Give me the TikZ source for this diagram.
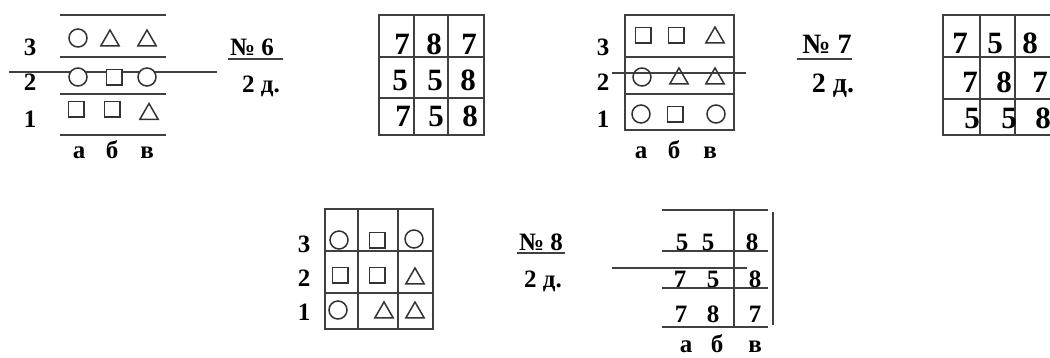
\documentclass[tikz,border=0pt]{standalone}
\usepackage{fontspec}
\setmainfont{Liberation Serif}
\usetikzlibrary{shapes.geometric}
\begin{document}
\begin{tikzpicture}[x=1pt,y=-1pt,
  ln/.style={line width=1.7pt, draw=black!75},
  sh/.style={draw=black!80, line width=1.5pt, inner sep=0pt},
  circ/.style={sh, circle, minimum size=18pt},
  sqr/.style={sh, rectangle, minimum size=15.5pt},
  tri/.style={sh, regular polygon, regular polygon sides=3, minimum size=21pt},
  wf/.style={fill=white},
  lab/.style={font=\fontsize{25}{25}\selectfont\bfseries, inner sep=0pt, anchor=base},
  mid/.style={font=\fontsize{28}{28}\selectfont\bfseries, inner sep=0pt, anchor=base},
  big/.style={font=\fontsize{31}{31}\selectfont\bfseries, inner sep=0pt, anchor=base}]
\useasboundingbox (0,0) rectangle (1050,357);

% ---------- Panel 1 ----------
\draw[ln] (60,15)--(166,15);
\draw[ln] (60,57)--(166,57);
\draw[ln] (60,94)--(166,94);
\draw[ln] (60,135)--(166,135);
\draw[ln] (9,72)--(217,72);
\node[lab] (a3) at (30,55) {3};
\node[lab] (a2) at (30,90) {2};
\node[lab] (a1) at (30,127) {1};
\node[circ,wf] (a3a) at (78,38) {};
\node[tri,wf] (a3b) at (110,40.5) {};
\node[tri,wf] (a3c) at (147,40.5) {};
\node[circ,wf] (a2a) at (78,77) {};
\node[sqr,wf] (a2b) at (114,77) {};
\node[circ,wf] (a2c) at (147,77) {};
\node[sqr,wf] (a1a) at (76,109) {};
\node[sqr,wf] (a1b) at (112,109) {};
\node[tri,wf] (a1c) at (149,114) {};
\node[lab] (ala) at (79,158) {а};
\node[lab] (alb) at (112,158) {б};
\node[lab] (alc) at (147,158) {в};
\node[lab] (n6) at (252,55) {№ 6};
\draw[ln] (228,59)--(283,59);
\node[lab] (d6) at (261,92) {2 д.};

% ---------- Grid 1 ----------
\draw[ln] (379,15) rectangle (484,135);
\draw[ln] (414,15)--(414,135);
\draw[ln] (448,15)--(448,135);
\draw[ln] (379,57)--(484,57);
\draw[ln] (379,98)--(484,98);
\node[big] (g11) at (402,54) {7};
\node[big] (g12) at (434,54) {8};
\node[big] (g13) at (469,54) {7};
\node[big] (g21) at (400,90) {5};
\node[big] (g22) at (435,90) {5};
\node[big] (g23) at (468,90) {8};
\node[big] (g31) at (403,126) {7};
\node[big] (g32) at (436,126) {5};
\node[big] (g33) at (470,126) {8};

% ---------- Panel 2 ----------
\draw[ln] (625,15) rectangle (734,130);
\draw[ln] (625,57)--(734,57);
\draw[ln] (625,94)--(734,94);
\draw[ln] (612,73)--(746,73);
\node[lab] (b3) at (603,55) {3};
\node[lab] (b2) at (603,90) {2};
\node[lab] (b1) at (603,127) {1};
\node[sqr] (b3a) at (643,35) {};
\node[sqr] (b3b) at (676,35) {};
\node[tri] (b3c) at (715,37.5) {};
\node[circ] (b2a) at (642,77) {};
\node[tri] (b2b) at (679,78.5) {};
\node[tri] (b2c) at (715,78.5) {};
\node[circ] (b1a) at (641,114) {};
\node[sqr] (b1b) at (675,114) {};
\node[circ] (b1c) at (716,114) {};
\node[lab] (bla) at (641,158) {а};
\node[lab] (blb) at (674,158) {б};
\node[lab] (blc) at (710,158) {в};
\node[mid] (n7) at (827,53) {№ 7};
\draw[ln] (797,59)--(852,59);
\node[mid] (d7) at (833,92) {2 д.};

% ---------- Grid 2 ----------
\draw[ln] (1050,15)--(943,15)--(943,135)--(1050,135);
\draw[ln] (980,15)--(980,135);
\draw[ln] (1015,15)--(1015,135);
\draw[ln] (943,57)--(1050,57);
\draw[ln] (943,99)--(1050,99);
\node[big] (h11) at (960,53) {7};
\node[big] (h12) at (995,53) {5};
\node[big] (h13) at (1030,53) {8};
\node[big] (h21) at (970,92) {7};
\node[big] (h22) at (1004,92) {8};
\node[big] (h23) at (1040,92) {7};
\node[big] (h31) at (972,128) {5};
\node[big] (h32) at (1009,128) {5};
\node[big] (h33) at (1043,128) {8};

% ---------- Panel 3 ----------
\draw[ln] (325,209) rectangle (433,329);
\draw[ln] (358,209)--(358,329);
\draw[ln] (398,209)--(398,329);
\draw[ln] (325,251)--(433,251);
\draw[ln] (325,293)--(433,293);
\node[lab] (c3) at (304,252) {3};
\node[lab] (c2) at (304,286) {2};
\node[lab] (c1) at (304,320) {1};
\node[circ] (c3a) at (339,240) {};
\node[sqr] (c3b) at (377,240) {};
\node[circ] (c3c) at (414,239) {};
\node[sqr] (c2a) at (340,275) {};
\node[sqr] (c2b) at (377,275) {};
\node[tri] (c2c) at (415,278.5) {};
\node[circ] (c1a) at (338,310) {};
\node[tri] (c1b) at (384,312.5) {};
\node[tri] (c1c) at (415,312.5) {};

% ---------- Panel 4 ----------
\node[lab] (n8) at (541,250) {№ 8};
\draw[ln] (517,253)--(565,253);
\node[lab] (d8) at (543,287) {2 д.};
\draw[ln] (662,210)--(768,210);
\draw[ln] (662,251)--(768,251);
\draw[ln] (662,288)--(768,288);
\draw[ln] (662,327)--(768,327);
\draw[ln] (734,210)--(734,327);
\draw[ln] (773,212)--(773,325);
\draw[ln] (612,268)--(747,268);
\node[lab] (k11) at (682,250) {5};
\node[lab] (k12) at (708,250) {5};
\node[lab] (k13) at (752,250) {8};
\node[lab] (k21) at (680,287) {7};
\node[lab] (k22) at (713,287) {5};
\node[lab] (k23) at (755,287) {8};
\node[lab] (k31) at (681,322) {7};
\node[lab] (k32) at (713,322) {8};
\node[lab] (k33) at (755,322) {7};
\node[lab] (kla) at (686,352) {а};
\node[lab] (klb) at (717,352) {б};
\node[lab] (klc) at (755,352) {в};
\end{tikzpicture}
\end{document}
